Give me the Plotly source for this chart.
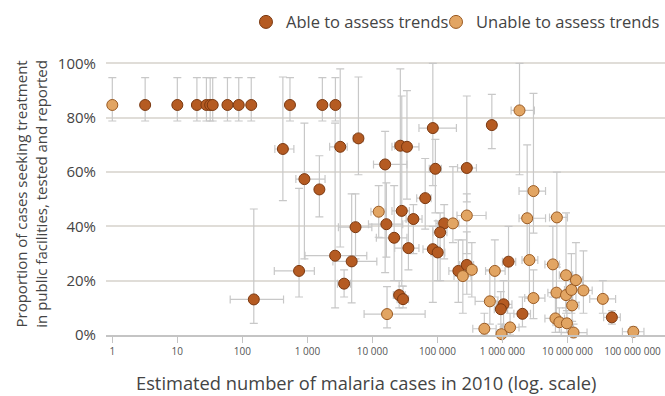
import plotly.graph_objects as go

# ---------------- data ----------------
# Able to assess trends
able_cases = [3.2, 10, 20, 28, 32, 35, 59, 88, 137, 540, 1700, 2700,
              420, 900, 1530, 745, 150, 2670, 3670, 3200, 4800, 5500, 6100,
              15700, 16400, 21600, 25800, 29600, 26900, 28300, 34000, 35800,
              42700, 64900, 85000, 85000, 101000, 127000, 110000, 93000,
              283000, 210000, 283000, 687000, 1240000, 1040000, 945000,
              2030000, 48200000]
able_pct = [84.7, 84.7, 84.7, 84.7, 84.7, 84.7, 84.7, 84.7, 84.7, 84.7, 84.7, 84.7,
            68.5, 57.4, 53.6, 23.6, 13.1, 29.2, 18.9, 69.3, 27.1, 39.7, 72.4,
            62.8, 40.8, 35.8, 14.7, 13.2, 69.7, 45.7, 69.3, 32.0,
            42.7, 50.4, 76.2, 31.6, 30.4, 41.1, 37.8, 61.2,
            61.5, 23.6, 25.8, 77.3, 27.0, 11.3, 9.5,
            7.8, 6.5]
able_pct_lo = [78.8] * 12 + [49.5, 28, 43.5, 14, 4.3, 10, 14, 32.4, 11.8, 28, 59,
                             23, 28.7, 20, 10, 10, 45, 18, 50, 24,
                             30, 39, 55, 12, 20, 28, 20, 45,
                             49, 12, 15, 68.6, 10, 3, 2,
                             3, 4]
able_pct_hi = [94.8] * 12 + [95, 78, 66, 54, 46.4, 78, 24, 98, 52, 52, 95,
                             75, 56, 55, 20, 18, 98, 88, 90, 42,
                             48, 65, 100, 40, 42, 48, 45, 72,
                             88, 35, 38, 88.6, 40, 20, 16,
                             14, 9]
able_cases_lo = [3.2, 10, 20, 28, 32, 35, 59, 88, 137, 540, 1700, 2700,
                 316, 665, 1350, 310, 65, 920, 2900, 2200, 2470, 3000, 5100,
                 10400, 8700, 11500, 21000, 24000, 22000, 20000, 20000, 22000,
                 33000, 48000, 52000, 60000, 80000, 95000, 85000, 75000,
                 204000, 150000, 220000, 600000, 1000000, 800000, 750000,
                 1500000, 36000000]
able_cases_hi = [3.2, 10, 20, 28, 32, 35, 59, 88, 137, 540, 1700, 2700,
                 620, 1870, 1750, 1280, 430, 8200, 4600, 4100, 11700, 9800, 7200,
                 34000, 29300, 34000, 32000, 36000, 33000, 37000, 52000, 52000,
                 58000, 80000, 196000, 110000, 130000, 170000, 140000, 115000,
                 398000, 300000, 360000, 800000, 1600000, 1400000, 1200000,
                 2700000, 65000000]

# Unable to assess trends
unable_cases = [1, 12500, 16800, 173000, 246000, 283000, 338000, 527000, 640000,
                764000, 966000, 1310000, 1830000, 2400000, 2600000, 3000000,
                3000000, 5960000, 6530000, 6870000, 6770000, 7500000, 9500000,
                9500000, 9800000, 11500000, 11800000, 12400000, 13500000,
                17600000, 35000000, 103000000]
unable_pct = [84.7, 45.4, 7.7, 41.1, 21.7, 44.0, 24.0, 2.3, 12.4,
              23.6, 0.3, 2.8, 82.7, 43.0, 27.6, 53.0,
              13.6, 26.0, 6.1, 43.3, 15.6, 4.7, 22.0,
              14.7, 4.3, 16.6, 10.9, 0.9, 20.2,
              16.4, 13.3, 1.2]
unable_pct_lo = [78.8, 36, 2.6, 34, 8, 30, 14, 0, 4,
                 14, 0, 0, 59, 28, 14, 37.5,
                 6, 14, 1, 25, 6, 1, 10,
                 8, 1, 8, 5, 0, 12,
                 8, 8, 0]
unable_pct_hi = [94.8, 55, 17.8, 62, 35, 52, 34, 8, 24,
                 35, 4, 8, 100, 70, 42, 89,
                 24, 40, 14, 60, 26, 10, 45,
                 22, 9, 30, 18, 4, 34,
                 31, 20, 3]
unable_cases_lo = [1, 9500, 7450, 140000, 180000, 200000, 230000, 350000, 380000,
                   550000, 800000, 1000000, 1360000, 1800000, 2000000, 1800000,
                   2200000, 4500000, 4500000, 5300000, 5000000, 6000000, 7500000,
                   7500000, 8000000, 9000000, 9500000, 8000000, 11000000,
                   13000000, 22000000, 70000000]
unable_cases_hi = [1, 16000, 64700, 215000, 330000, 560000, 400000, 800000, 850000,
                   1100000, 1200000, 1800000, 3100000, 4600000, 3500000, 4600000,
                   4500000, 7500000, 9000000, 10000000, 9000000, 9500000, 12000000,
                   12000000, 12000000, 15000000, 15000000, 20000000, 17000000,
                   24000000, 55000000, 150000000]

x_tick_vals = [1, 10, 100, 1000, 10000, 100000, 1000000, 10000000, 100000000]
x_tick_text = ["1", "10", "100", "1 000", "10 000", "100 000", "1 000 000",
               "10 000 000", "100 000 000"]
y_tick_vals = [0, 20, 40, 60, 80, 100]
y_tick_text = ["0%", "20%", "40%", "60%", "80%", "100%"]

# ---------------- figure ----------------
FONT = "Open Sans"
DARK = "#b55b22"
DARK_LINE = "#7a3810"
LIGHT = "#e2a563"
LIGHT_LINE = "#9a5a22"
ERR = "#c8c8c8"

all_x = able_cases + unable_cases
all_y = able_pct + unable_pct
all_ylo = able_pct_lo + unable_pct_lo
all_yhi = able_pct_hi + unable_pct_hi
all_xlo = able_cases_lo + unable_cases_lo
all_xhi = able_cases_hi + unable_cases_hi

fig = go.Figure()

# error bars first (behind all markers)
fig.add_trace(go.Scatter(
    x=all_x, y=all_y, mode="markers",
    marker=dict(size=1, opacity=0),
    error_y=dict(type="data", symmetric=False,
                 array=[h - v for h, v in zip(all_yhi, all_y)],
                 arrayminus=[v - l for l, v in zip(all_ylo, all_y)],
                 color=ERR, thickness=1.2, width=4),
    error_x=dict(type="data", symmetric=False,
                 array=[h - v for h, v in zip(all_xhi, all_x)],
                 arrayminus=[v - l for l, v in zip(all_xlo, all_x)],
                 color=ERR, thickness=1.2, width=4),
    showlegend=False, hoverinfo="skip", cliponaxis=False,
))

fig.add_trace(go.Scatter(
    x=able_cases, y=able_pct, mode="markers", name="Able to assess trends",
    marker=dict(size=11, color=DARK, line=dict(color=DARK_LINE, width=1)),
    cliponaxis=False, showlegend=False,
))
fig.add_trace(go.Scatter(
    x=unable_cases, y=unable_pct, mode="markers", name="Unable to assess trends",
    marker=dict(size=11, color=LIGHT, line=dict(color=LIGHT_LINE, width=1)),
    cliponaxis=False, showlegend=False,
))

# legend entries (larger symbols, as in the reference)
fig.add_trace(go.Scatter(
    x=[None], y=[None], mode="markers", name="Able to assess trends",
    marker=dict(size=13, color=DARK, line=dict(color=DARK_LINE, width=1)),
    legend="legend",
))
fig.add_trace(go.Scatter(
    x=[None], y=[None], mode="markers", name="Unable to assess trends",
    marker=dict(size=13, color=LIGHT, line=dict(color=LIGHT_LINE, width=1)),
    legend="legend2",
))

leg_common = dict(orientation="h", yref="container", y=0.944, yanchor="middle",
                  xanchor="left", font=dict(size=16.5, color="#444444"),
                  itemsizing="trace", bgcolor="rgba(0,0,0,0)", itemwidth=30)

fig.update_layout(
    width=665, height=396,
    margin=dict(l=106, r=0, t=58, b=61),
    paper_bgcolor="white", plot_bgcolor="white",
    font=dict(family=FONT, color="#444444"),
    showlegend=True,
    legend=dict(x=0.2504, **leg_common),
    legend2=dict(x=0.5939, **leg_common),
    xaxis=dict(type="log", range=[-0.097, 8.50],
               tickvals=x_tick_vals, ticktext=x_tick_text,
               tickfont=dict(size=10, color="#555555"),
               showgrid=False, zeroline=False,
               showline=True, linecolor="#c4c4c4", linewidth=1.5,
               ticks="outside", ticklen=6, tickcolor="#c4c4c4", tickwidth=1),
    yaxis=dict(range=[0, 102], tickvals=y_tick_vals, ticktext=y_tick_text,
               tickfont=dict(size=15, color="#444444"),
               showgrid=True, gridcolor="#e0ddd8", gridwidth=1.5,
               zeroline=False, showline=False, ticks="",
               ticklabelstandoff=9),
    annotations=[
        dict(text="Estimated number of malaria cases in 2010 (log. scale)",
             xref="paper", yref="paper", x=0.465, y=-0.173,
             xanchor="center", yanchor="middle", showarrow=False,
             font=dict(size=18.3, color="#444444")),
        dict(text="Proportion of cases seeking treatment<br>in public facilities, tested and reported",
             xref="paper", yref="paper", x=-0.1735, y=0.51,
             xanchor="left", yanchor="middle", showarrow=False, textangle=-90,
             font=dict(size=15, color="#444444")),
    ],
)

fig.write_html("out.html", post_script="document.body.style.margin='0px';",
               config={"displayModeBar": False})
